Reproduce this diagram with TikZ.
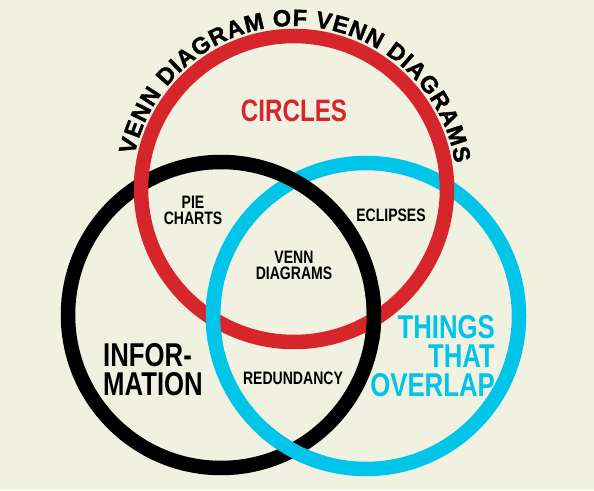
\documentclass[tikz,border=0pt]{standalone}
\usepackage{fontspec}
\usepackage{tikz}
\usetikzlibrary{decorations.text}
\setmainfont{Liberation Sans}
\newfontfamily\condfont[FakeStretch=0.78]{Liberation Sans}
\newfontfamily\heavyfont[FakeBold=1.5]{Liberation Sans}
\definecolor{paper}{RGB}{241,241,226}
\definecolor{vred}{RGB}{215,38,43}
\definecolor{vblue}{RGB}{0,196,232}
\tikzstyle{ring} = [line width=14.5pt]
\tikzstyle{label} = [inner sep=0pt, font=\condfont\bfseries\fontsize{18}{16}\selectfont, align=center]
\tikzstyle{biglabel} = [inner sep=0pt, font=\condfont\bfseries\fontsize{33}{29}\selectfont]

\begin{document}
\begin{tikzpicture}[x=1pt,y=1pt]

        \useasboundingbox (0, 0) rectangle (594, 490);
        \fill[paper] (0, 0) rectangle (594, 490);

        % centres of the three sets
        \coordinate (redc) at (294, 301);
        \coordinate (blackc) at (221, 175);
        \coordinate (bluec) at (366, 174);

        % the rings, blue first, red last
        \draw[ring, vblue] (bluec) circle [radius=153pt];
        \draw[ring, black] (blackc) circle [radius=153pt];
        \draw[ring, vred] (redc) circle [radius=153pt];

        % weave: put back the pieces that go over
        \draw[ring, vblue] ([shift={(170:153pt)}]bluec) arc [start angle=170, end angle=190, radius=153pt];   % blue over red
        \draw[ring, black] ([shift={(-10:153pt)}]blackc) arc [start angle=-10, end angle=10, radius=153pt];  % black over red
        \draw[ring, vblue] ([shift={(228:153pt)}]bluec) arc [start angle=228, end angle=254, radius=153pt];  % blue over black

        % title along the top of the red ring
        \path[decorate, decoration={text along path, text align={fit to path},
              text={|\heavyfont\bfseries\fontsize{23.5}{24}\selectfont|VENN DIAGRAM OF VENN DIAGRAMS}}]
              ([shift={(168:163pt)}]redc) arc [start angle=168, end angle=9, radius=163pt];

        % set names
        \node[biglabel, vred, font=\condfont\bfseries\fontsize{31}{29}\selectfont] (circles) at (294, 379) {CIRCLES};
        \node[biglabel, align=left, anchor=west] (info) at (103, 120) {INFOR-\\MATION};
        \node[biglabel, vblue, align=right, anchor=east] (overlap) at (495, 134) {THINGS\\THAT\\OVERLAP};

        % overlaps
        \node[label] (pie) at (193, 280) {PIE\\CHARTS};
        \node[label] (eclipses) at (391, 275) {ECLIPSES};
        \node[label] (venn) at (294, 225) {VENN\\DIAGRAMS};
        \node[label] (redund) at (293, 112) {REDUNDANCY};

\end{tikzpicture}
\end{document}
